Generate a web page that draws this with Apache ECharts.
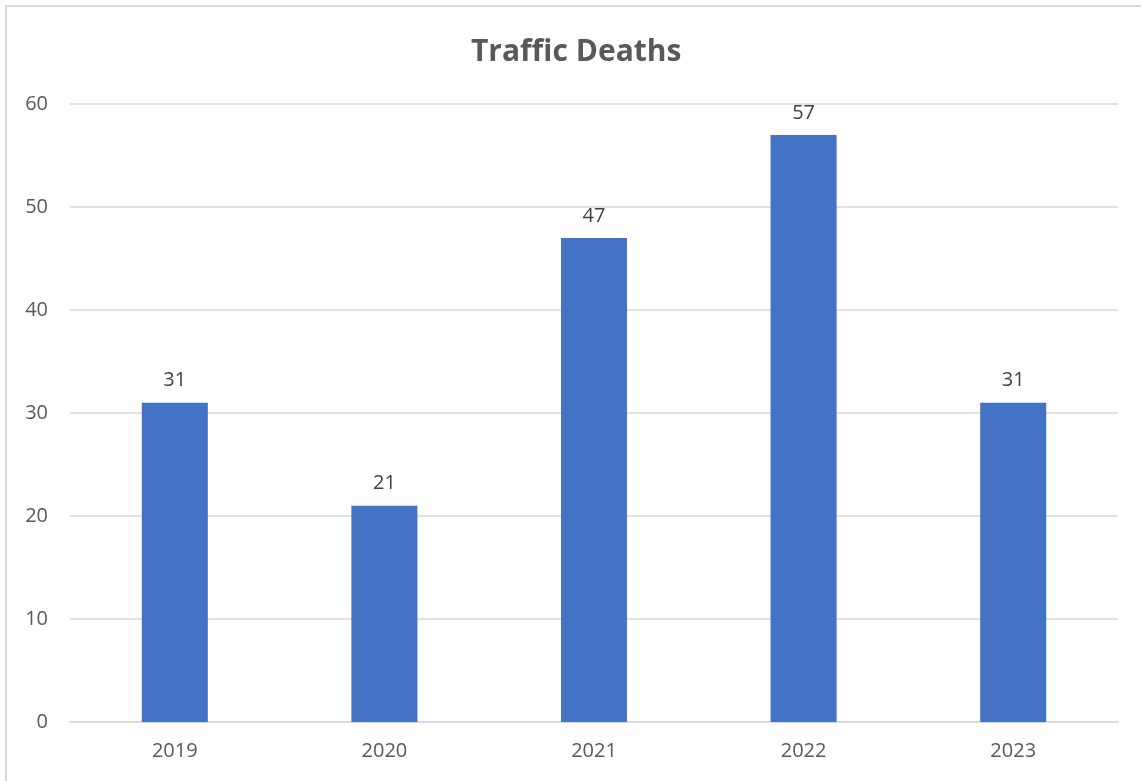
<!DOCTYPE html>
<html><head><meta charset="utf-8">
<script src="https://cdn.jsdelivr.net/npm/echarts@6/dist/echarts.min.js"></script>
<style>html,body{margin:0;padding:0;background:#fff}#c{width:1141px;height:781px}</style>
</head><body><div id="c"></div>
<script>
const categories = ['2019','2020','2021','2022','2023'];
const deaths = [31,21,47,57,31];
const yTicks = [0,10,20,30,40,50,60];
const chart = echarts.init(document.getElementById('c'));
chart.setOption({
  animation:false,
  title:{text:'Traffic Deaths',left:466,top:32,textStyle:{fontFamily:'Open Sans',fontWeight:'bold',fontSize:30,color:'#595959'}},
  graphic:[{type:'rect',shape:{x:6,y:6,width:1200,height:900},style:{fill:'none',stroke:'#d9d9d9',lineWidth:2},silent:true}],
  grid:{left:70,right:23,top:104,bottom:59,containLabel:false},
  xAxis:{type:'category',data:categories,axisTick:{show:false},axisLine:{lineStyle:{color:'#d9d9d9',width:2}},
    axisLabel:{fontFamily:'Open Sans',fontSize:20,color:'#595959',margin:19}},
  yAxis:{type:'value',min:yTicks[0],max:yTicks[yTicks.length-1],interval:10,axisLine:{show:false},axisTick:{show:false},
    splitLine:{lineStyle:{color:'#d9d9d9',width:1.5}},
    axisLabel:{fontFamily:'Open Sans',fontSize:20,color:'#595959',margin:22}},
  series:[{type:'bar',data:deaths,barWidth:'31.5%',itemStyle:{color:'#4472c4'},
    label:{show:true,position:'top',distance:12,fontFamily:'Open Sans',fontSize:20,color:'#404040'}}]
});
</script></body></html>
